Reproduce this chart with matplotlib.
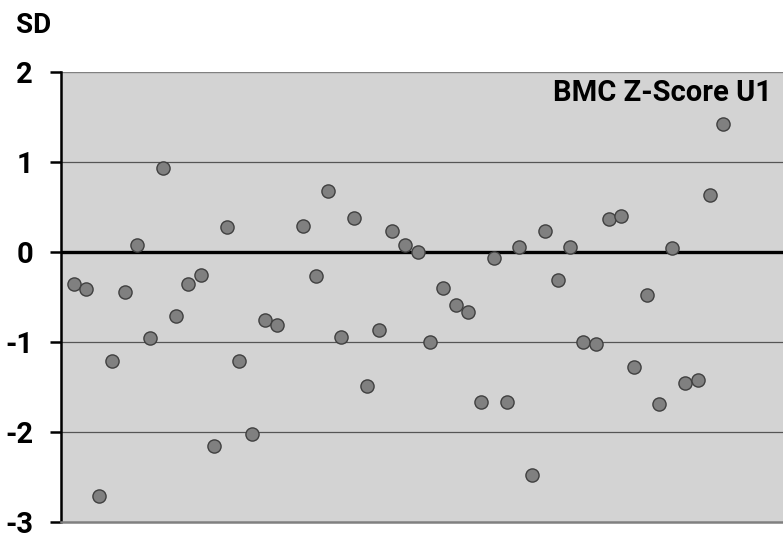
import matplotlib
matplotlib.use("Agg")
import matplotlib.pyplot as plt

# sample index along the x axis (index 18 has no value)
idx = [1, 2, 3, 4, 5, 6, 7, 8, 9, 10, 11, 12, 13, 14, 15, 16, 17,
       19, 20, 21, 22, 23, 24, 25, 26, 27, 28, 29, 30, 31, 32, 33, 34, 35,
       36, 37, 38, 39, 40, 41, 42, 43, 44, 45, 46, 47, 48, 49, 50, 51, 52]
zscore = [-0.36, -0.42, -2.71, -1.21, -0.45, 0.07, -0.96, 0.93, -0.71, -0.36,
          -0.26, -2.16, 0.27, -1.22, -2.03, -0.76, -0.81,
          0.28, -0.27, 0.67, -0.95, 0.37, -1.49, -0.87, 0.23, 0.07, 0.00,
          -1.00, -0.40, -0.59, -0.67, -1.67, -0.07, -1.67, 0.05, -2.48, 0.23,
          -0.32, 0.05, -1.00, -1.03, 0.36, 0.40, -1.28, -0.48, -1.69, 0.04,
          -1.46, -1.43, 0.63, 1.42]
yticks = [-3, -2, -1, 0, 1, 2]

FONT = ["Roboto", "DejaVu Sans"]

fig = plt.figure(figsize=(7.83, 5.38), dpi=100)
ax = fig.add_axes([61 / 783, 1 - 521.7 / 538, 1 - 61 / 783, (521.7 - 71.7) / 538])
ax.set_facecolor("#d3d3d3")
ax.set_xlim(0, 56.7)
ax.set_ylim(-3, 2)

for y in (-2, -1, 1):
    ax.axhline(y, color="#555555", lw=0.9, zorder=1)
ax.axhline(0, color="black", lw=2.4, zorder=2)

ax.scatter(idx, zscore, s=90, c="#808080", edgecolors="#404040", linewidths=1.0, zorder=3)

for s in ("top", "right"):
    ax.spines[s].set_visible(False)
ax.spines["bottom"].set_color("#808080")
ax.spines["bottom"].set_linewidth(1.8)
ax.spines["left"].set_color("black")
ax.spines["left"].set_linewidth(1.8)
ax.axhline(2, color="#808080", lw=1.0, zorder=1)

ax.set_xticks([])
ax.set_yticks(yticks)
ax.set_yticklabels([str(t) for t in yticks], fontfamily=FONT, fontweight="bold", fontsize=21)
ax.tick_params(axis="y", length=8, width=1.8, pad=12, color="black")

fig.text(16 / 783, 1 - 33 / 538, "SD", fontfamily=FONT, fontweight="bold", fontsize=20,
         ha="left", va="baseline")
ax.text(0.985, 1 - (101 - 71.7) / 450, "BMC Z-Score U1", transform=ax.transAxes,
        fontfamily=FONT, fontweight="bold", fontsize=21, ha="right", va="baseline")

fig.savefig("out.png", dpi=100)
